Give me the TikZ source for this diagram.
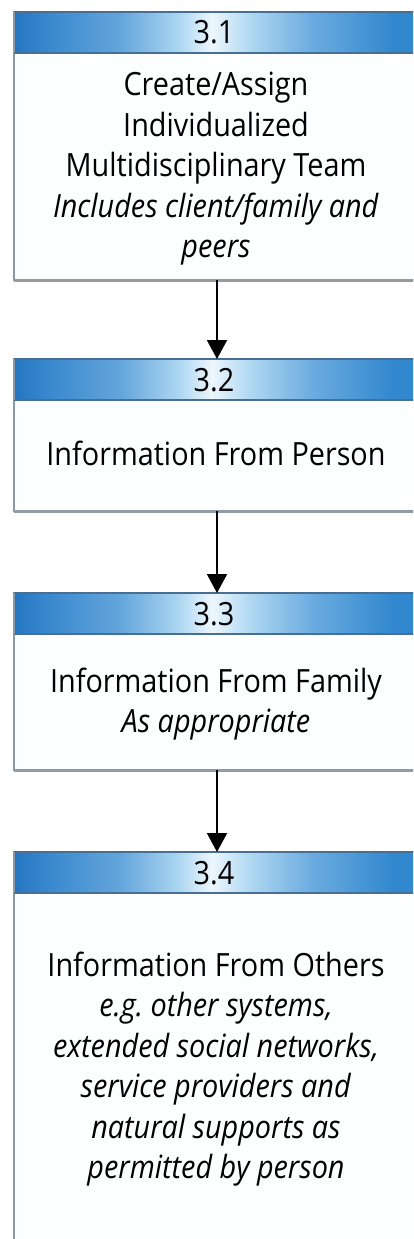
\documentclass[tikz,border=0pt]{standalone}
\usepackage{fontspec}
\setmainfont{Open Sans}[FakeStretch=0.9]
\usetikzlibrary{arrows.meta}

% palette
\definecolor{edgegray}{RGB}{140,152,164}
\definecolor{shadowgray}{RGB}{146,156,166}
\definecolor{hdrline}{RGB}{72,110,145}
\definecolor{bodyfill}{RGB}{252,254,255}
\definecolor{hA}{RGB}{36,116,192}
\definecolor{hB}{RGB}{52,132,204}
\definecolor{hC}{RGB}{100,166,220}
\definecolor{hD}{RGB}{172,214,241}
\definecolor{hE}{RGB}{236,246,253}
\definecolor{hF}{RGB}{108,172,224}
\definecolor{hG}{RGB}{50,136,206}

% header band: dark blue at the ends, nearly white in the middle
\pgfdeclarehorizontalshading{hdrshade}{100bp}{%
  color(0bp)=(hA); color(25bp)=(hA); color(28bp)=(hB); color(38bp)=(hC);
  color(45bp)=(hD); color(49bp)=(hE); color(54bp)=(hD); color(61bp)=(hF);
  color(71bp)=(hG); color(75bp)=(hG); color(100bp)=(hG)}

\tikzset{
  txt/.style={font=\fontsize{32pt}{40.5pt}\selectfont, align=center, inner sep=0pt},
  bodybox/.style={rectangle, draw=edgegray, line width=2pt, fill=bodyfill,
    minimum width=412pt, inner sep=0pt, outer sep=0pt, anchor=north west},
  hdr/.style={rectangle, shade, shading=hdrshade, minimum width=412pt,
    minimum height=41pt, inner sep=0pt, outer sep=0pt, anchor=north west,
    font=\fontsize{32pt}{40pt}\selectfont, text=black},
  numlabel/.style={font=\fontsize{32pt}{40pt}\selectfont, inner sep=0pt},
  arr/.style={line width=2pt, draw=black,
    -{Triangle[width=20pt,length=19pt]}},
}

\begin{document}
\begin{tikzpicture}[x=1pt,y=-1pt]
\useasboundingbox (0,0) rectangle (413,1239);
\fill[white] (0,0) rectangle (413,1239);
\clip (0,0) rectangle (413,1239);

% box outlines (each spans header and body); right side runs past the page
\node[bodybox, minimum height=268pt] (b1) at (14,12) {};
\node[bodybox, minimum height=152pt] (b2) at (14,359) {};
\node[bodybox, minimum height=177pt] (b3) at (14,593) {};
\node[bodybox, minimum height=410pt] (b4) at (14,852) {};

% heavier bottom edges
\foreach \b in {b1,b2,b3}
  \draw[shadowgray, line width=3pt] (\b.south west) -- (\b.south east);

% numbered header bands
\node[hdr] (h1) at (14,12) {};
\node[hdr] (h2) at (14,359) {};
\node[hdr] (h3) at (14,593) {};
\node[hdr] (h4) at (14,852) {};
\foreach \h in {h1,h2,h3,h4}{
  \draw[hdrline, line width=2pt] (\h.north west) -- (\h.north east);
  \draw[hdrline, line width=2pt] (\h.south west) -- (\h.south east);
  \draw[edgegray, line width=2pt] (\h.north west) -- (\h.south west);
}
\node[numlabel] (n1) at (214,32) {3.1};
\node[numlabel] (n2) at (214,380) {3.2};
\node[numlabel] (n3) at (214,614) {3.3};
\node[numlabel] (n4) at (214,873) {3.4};

% step descriptions
\node[txt] (t1) at (216,169) {Create/Assign\\Individualized\\Multidisciplinary Team\\
  \textit{Includes client/family and}\\\textit{peers}};
\node[txt] (t2) at (216,453) {Information From Person};
\node[txt] (t3) at (216,704) {Information From Family\\\textit{As appropriate}};
\node[txt] (t4) at (216,1069) {Information From Others\\\textit{e.g.\ other systems,}\\
  \textit{extended social networks,}\\\textit{service providers and}\\
  \textit{natural supports as}\\\textit{permitted by person}};

% flow between steps
\coordinate (ax) at (217,0);
\draw[arr] (ax |- b1.south) -- (ax |- h2.north);
\draw[arr] (ax |- b2.south) -- (ax |- h3.north);
\draw[arr] (ax |- b3.south) -- (ax |- h4.north);
\end{tikzpicture}
\end{document}
